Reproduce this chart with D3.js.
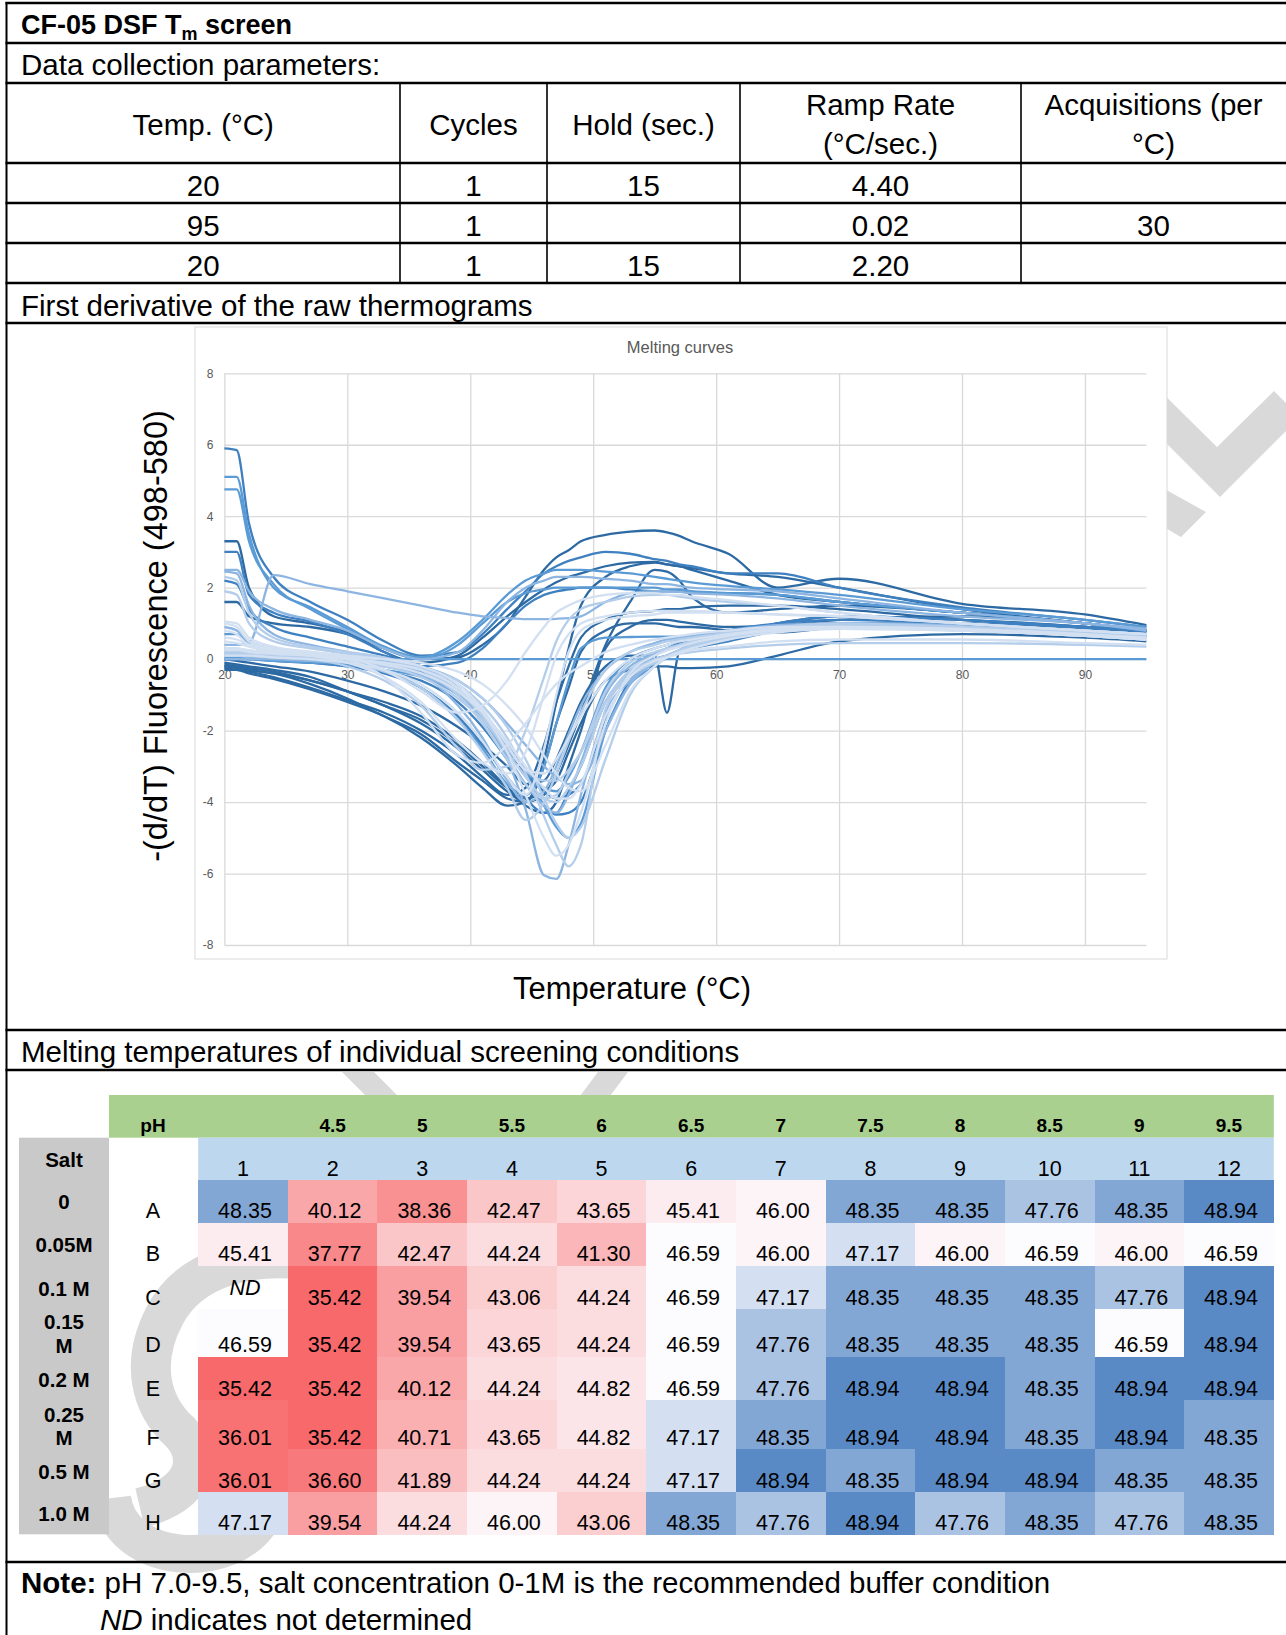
<!DOCTYPE html>
<html>
<head>
<meta charset="utf-8">
<script src="https://cdn.jsdelivr.net/npm/d3@7"></script>
<style>
  body { margin: 0; background: #fff; }
  svg { display: block; }
</style>
</head>
<body>
<div id="page"></div>
<script>
// ---------- data ----------
const paramHeader = [["Temp. (°C)"], ["Cycles"], ["Hold (sec.)"], ["Ramp Rate", "(°C/sec.)"], ["Acquisitions (per", "°C)"]];
const paramRows = [
  ["20", "1", "15", "4.40", ""],
  ["95", "1", "", "0.02", "30"],
  ["20", "1", "15", "2.20", ""]
];

// melting curves: -(d/dT) fluorescence sampled at these temperatures
const temps = [20, 21, 22, 24, 27, 30, 33, 36, 39, 41, 43, 44.5, 46, 47, 48, 49, 51, 53, 55, 56, 57, 58, 61, 65, 70, 80, 90, 95];
const xTicks = [20, 30, 40, 50, 60, 70, 80, 90];
const yTicks = [-8, -6, -4, -2, 0, 2, 4, 6, 8];

const bumpCurves = [
  [1.6,1.6,1.2,1.0,0.9,0.7,0.3,0.0,0.05,0.4, 1.0,1.75,2.5,2.85,3.05,3.3, 3.48,3.57,3.6,3.55,3.45,3.3,2.95,2.0,2.25,1.55,1.25,0.95],
  [5.9,5.85,3.8,2.3,1.6,1.1,0.5,0.1,0.2,0.7, 1.4,1.9,2.4,2.6,2.75,2.85, 3.0,2.95,2.8,2.75,2.65,2.6,2.4,2.4,2.0,1.45,1.1,0.9],
  [5.1,5.1,3.5,2.0,1.45,0.9,0.35,0.05,0.5,1.1, 1.8,2.2,2.4,2.5,2.5,2.5, 2.45,2.4,2.3,2.25,2.2,2.15,2.05,1.95,1.8,1.4,1.1,0.9],
  [4.75,4.75,3.3,2.1,1.4,0.85,0.3,0.0,0.4,1.0, 1.6,1.85,1.95,2.0,2.0,2.0, 2.0,2.0,2.0,1.95,1.95,1.9,1.85,1.8,1.6,1.3,1.0,0.8],
  [3.3,3.3,2.0,1.2,1.0,0.75,0.2,-0.1,0.1,0.6, 1.2,1.6,1.95,2.15,2.3,2.4, 2.6,2.7,2.72,2.65,2.6,2.55,2.4,2.3,2.0,1.4,1.0,0.8],
  [3.0,3.0,1.8,1.3,1.05,0.7,0.2,-0.2,-0.1,0.3, 1.0,1.5,1.8,1.9,1.95,2.0, 2.0,1.95,1.9,1.9,1.9,1.85,1.85,1.8,1.6,1.3,1.0,0.8],
  [2.5,2.5,1.9,1.4,1.1,0.8,0.3,0.0,0.2,0.8, 1.6,2.0,2.2,2.3,2.3,2.3, 2.25,2.2,2.1,2.1,2.05,2.0,1.95,1.9,1.7,1.3,1.0,0.8],
  [0.4,0.4,0.45,2.35,2.1,1.9,1.7,1.5,1.3,1.2, 1.15,1.12,1.12,1.13,1.15,1.2, 1.6,1.85,1.9,1.9,1.88,1.85,1.8,1.7,1.5,1.2,1.0,0.85]
];
const bumpShades = [0, 1, 2, 2, 0, 1, 3, 3];

const zeroCurve = [0,0,0,0,0,0,0,0,0,0, 0,0,0,0,0,0, 0,0,0,0,0,0,0,0,0,0,0,0];

const darkCurves = [
  [-0.2,-0.2,-0.3,-0.4,-0.7,-1.1,-1.6,-2.1,-2.9,-3.4, -3.9,-4.0,-2.8,-1.2,0.3,1.5, 2.3,2.6,2.7,2.65,2.6,2.5,2.2,1.8,1.6,1.3,1.0,0.8],
  [-0.1,-0.15,-0.2,-0.3,-0.5,-0.9,-1.3,-1.8,-2.5,-3.1, -3.7,-4.0,-3.8,-3.2,-2.4,-1.5, 0.4,1.6,2.5,2.45,2.2,1.75,1.3,1.4,1.5,1.3,1.0,0.8],
  [0.0,-0.05,-0.1,-0.2,-0.35,-0.6,-0.9,-1.3,-1.9,-2.4, -3.0,-3.5,-3.4,-2.8,-2.0,-1.2, -0.2,0.1,0.1,-1.5,0.2,0.4,0.7,1.0,1.2,1.1,0.9,0.7],
  [-0.25,-0.3,-0.35,-0.5,-0.8,-1.15,-1.5,-2.0,-2.7,-3.3, -3.8,-3.6,-2.4,-1.2,-0.2,0.6, 1.1,1.3,1.35,1.4,1.4,1.45,1.5,1.5,1.4,1.1,0.9,0.8],
  [-0.15,-0.2,-0.25,-0.35,-0.6,-0.9,-1.2,-1.6,-2.3,-2.9, -3.6,-4.1,-4.3,-4.0,-3.0,-2.0, 0.3,0.9,1.1,1.1,1.05,1.0,0.9,0.95,1.1,1.2,1.0,0.8],
  [-0.3,-0.3,-0.4,-0.55,-0.85,-1.2,-1.6,-2.2,-3.0,-3.6, -4.1,-4.0,-3.0,-1.8,-0.8,0.2, 0.8,1.0,1.0,0.95,0.9,0.9,0.8,0.75,0.9,1.0,0.8,0.7],
  [-0.2,-0.25,-0.3,-0.4,-0.6,-0.9,-1.3,-1.7,-2.4,-3.0, -3.6,-3.9,-3.7,-3.4,-2.6,-1.8, -0.6,-0.3,-0.2,-0.2,-0.25,-0.25,-0.2,0.1,0.5,0.7,0.6,0.5]
];

const midCurves = [
  [0.1,0.1,0.05,0.0,-0.1,-0.2,-0.4,-0.8,-1.6,-2.4, -3.3,-3.9,-4.3,-4.3,-3.7,-3.0, -1.2,-0.4,0.0,0.1,0.2,0.3,0.5,0.8,1.0,1.0,0.9,0.8],
  [0.0,0.0,0.0,-0.05,-0.1,-0.2,-0.35,-0.6,-1.2,-1.9, -2.8,-3.5,-4.1,-4.35,-4.3,-4.0, -2.0,-0.6,-0.1,0.1,0.25,0.4,0.7,1.0,1.2,1.1,0.9,0.8],
  [0.1,0.1,0.1,0.05,0.0,-0.05,-0.15,-0.3,-0.7,-1.3, -2.2,-3.2,-4.4,-5.2,-5.8,-5.2, -1.4,-0.5,-0.1,0.05,0.2,0.35,0.6,0.9,1.0,0.9,0.7,0.6],
  [0.0,0.0,0.0,0.0,-0.05,-0.1,-0.2,-0.4,-0.9,-1.6, -2.8,-4.2,-6.05,-6.15,-5.2,-3.8, -1.5,-0.6,-0.1,0.1,0.2,0.35,0.6,0.9,1.0,0.9,0.75,0.6],
  [0.05,0.05,0.0,-0.05,-0.1,-0.15,-0.3,-0.5,-1.0,-1.6, -2.4,-3.2,-4.1,-4.7,-5.0,-4.6, -2.0,-0.7,-0.2,0.05,0.2,0.35,0.6,0.85,1.0,0.95,0.8,0.7],
  [2.2,2.1,1.4,0.9,0.6,0.35,0.1,-0.2,-0.8,-1.5, -2.5,-3.2,-3.7,-3.9,-3.8,-3.5, -1.7,-0.4,0.1,0.3,0.45,0.55,0.8,1.0,1.1,1.0,0.85,0.75],
  [0.7,0.7,0.4,0.2,0.1,0.0,-0.1,-0.35,-0.9,-1.5, -2.4,-3.1,-3.6,-3.7,-3.3,-2.6, -0.8,0.0,0.3,0.4,0.5,0.6,0.8,0.95,1.0,0.9,0.75,0.65]
];
const midShades = [1, 1, 4, 3, 2, 1, 2];

const lightCurves = [
  [0.2,0.2,0.15,0.1,0.0,-0.2,-0.6,-1.3,-2.5,-3.1, -3.0,-2.0,-0.5,0.5,1.1,1.4, 1.6,1.75,1.8,1.8,1.75,1.7,1.6,1.5,1.3,1.0,0.8,0.7],
  [0.3,0.3,0.2,0.15,0.05,-0.1,-0.35,-0.8,-1.7,-2.6, -3.6,-4.5,-4.0,-3.2,-2.3,-1.5, -0.3,0.2,0.4,0.5,0.55,0.6,0.75,0.9,0.95,0.85,0.7,0.6],
  [0.5,0.45,0.35,0.2,0.1,0.0,-0.1,-0.3,-0.8,-1.5, -2.6,-3.8,-5.0,-5.5,-5.2,-4.3, -1.8,-0.4,0.1,0.25,0.35,0.45,0.65,0.8,0.85,0.8,0.65,0.55],
  [0.2,0.2,0.15,0.1,0.05,0.0,-0.1,-0.25,-0.6,-1.1, -1.9,-2.8,-3.9,-4.6,-5.0,-4.7, -2.8,-1.0,-0.2,0.1,0.25,0.4,0.6,0.8,0.9,0.85,0.7,0.6],
  [0.9,0.8,0.5,0.3,0.15,0.05,-0.05,-0.2,-0.6,-1.1, -1.8,-2.4,-3.0,-3.3,-3.5,-3.4, -2.0,-0.7,-0.1,0.1,0.25,0.4,0.6,0.8,0.9,0.8,0.65,0.55],
  [1.05,1.0,0.6,0.35,0.2,0.1,0.0,-0.2,-0.7,-1.4, -2.4,-3.1,-3.2,-2.8,-2.2,-1.6, -0.6,0.0,0.3,0.4,0.5,0.55,0.7,0.85,0.9,0.85,0.7,0.6],
  [1.9,1.8,1.0,0.5,0.3,0.15,0.0,-0.3,-1.0,-1.8, -2.8,-3.5,-3.9,-3.8,-3.2,-2.6, -0.9,-0.1,0.2,0.3,0.4,0.5,0.7,0.85,0.9,0.85,0.7,0.6],
  [0.3,0.3,0.25,0.2,0.1,-0.1,-0.5,-1.2,-2.3,-2.9, -3.2,-2.6,-1.0,0.1,0.7,1.0, 1.2,1.3,1.35,1.35,1.35,1.35,1.3,1.25,1.2,1.0,0.8,0.7],
  [2.45,2.4,1.5,0.7,0.4,0.2,0.0,-0.4,-1.3,-2.2, -3.4,-4.0,-3.7,-3.0,-2.1,-1.3, -0.3,0.2,0.45,0.55,0.6,0.65,0.8,0.95,1.0,0.9,0.75,0.65],
  [0.1,0.1,0.1,0.05,0.0,-0.1,-0.3,-0.7,-1.5,-2.3, -3.3,-3.8,-2.5,-1.0,0.2,0.8, 1.1,1.2,1.25,1.3,1.3,1.3,1.3,1.25,1.2,1.0,0.8,0.7],
  [0.0,0.0,0.0,0.0,-0.05,-0.15,-0.35,-0.8,-1.7,-2.5, -3.5,-3.8,-3.0,-1.8,-0.6,0.3, 0.6,0.62,0.63,0.63,0.63,0.63,0.7,0.85,0.95,0.9,0.75,0.65],
  [0.6,0.55,0.4,0.25,0.15,0.05,0.0,-0.1,-0.35,-0.7, -1.3,-1.9,-2.7,-3.2,-3.6,-3.7, -2.4,-0.9,-0.2,0.05,0.2,0.3,0.55,0.75,0.85,0.8,0.65,0.55],
  [0.1,0.1,0.05,0.0,-0.05,-0.1,-0.2,-0.45,-1.0,-1.7, -2.7,-3.5,-4.1,-4.3,-3.8,-2.9, -1.0,-0.2,0.15,0.3,0.4,0.5,0.7,0.9,1.0,0.95,0.8,0.7],
  [2.3,2.2,1.3,0.6,0.35,0.2,0.05,-0.25,-0.9,-1.6, -2.6,-3.3,-3.9,-4.0,-3.6,-3.0, -1.2,-0.3,0.1,0.25,0.35,0.45,0.65,0.85,0.95,0.9,0.75,0.65],
  [0.8,0.7,0.4,0.3,0.2,0.0,-0.5,-1.5,-2.7,-2.9, -2.4,-1.8,-1.1,-0.7,-0.4,-0.2, 0.2,0.4,0.55,0.6,0.65,0.7,0.8,0.9,0.9,0.8,0.65,0.55],
  [1.0,0.9,0.5,0.3,0.2,0.05,-0.3,-0.9,-1.5,-1.3, -0.6,0.2,0.9,1.3,1.5,1.65, 1.8,1.85,1.85,1.8,1.8,1.75,1.65,1.5,1.3,1.0,0.8,0.7],
  [0.15,0.15,0.1,0.05,0.0,-0.05,-0.2,-0.5,-1.1,-1.7, -2.5,-3.1,-3.4,-3.4,-3.1,-2.6, -1.2,-0.4,0.0,0.1,0.15,0.2,0.3,0.4,0.45,0.45,0.4,0.35],
  [0.25,0.25,0.2,0.15,0.1,0.0,-0.15,-0.4,-0.9,-1.5, -2.3,-3.0,-3.6,-3.9,-3.9,-3.5, -1.6,-0.5,-0.05,0.05,0.15,0.25,0.35,0.5,0.55,0.55,0.45,0.4]
];
const lightShades = [4, 4, 5, 4, 3, 5, 4, 5, 3, 5, 2, 5, 3, 4, 5, 5, 4, 5];

// melting temperatures (°C), rows A-H, columns 1-12; null = not determined
const phLabels = ["", "4.5", "5", "5.5", "6", "6.5", "7", "7.5", "8", "8.5", "9", "9.5"];
const colLabels = ["1", "2", "3", "4", "5", "6", "7", "8", "9", "10", "11", "12"];
const rowLetters = ["A", "B", "C", "D", "E", "F", "G", "H"];
const saltLabels = [["0"], ["0.05M"], ["0.1 M"], ["0.15", "M"], ["0.2 M"], ["0.25", "M"], ["0.5 M"], ["1.0 M"]];
const tmValues = [
  [48.35, 40.12, 38.36, 42.47, 43.65, 45.41, 46.00, 48.35, 48.35, 47.76, 48.35, 48.94],
  [45.41, 37.77, 42.47, 44.24, 41.30, 46.59, 46.00, 47.17, 46.00, 46.59, 46.00, 46.59],
  [null,  35.42, 39.54, 43.06, 44.24, 46.59, 47.17, 48.35, 48.35, 48.35, 47.76, 48.94],
  [46.59, 35.42, 39.54, 43.65, 44.24, 46.59, 47.76, 48.35, 48.35, 48.35, 46.59, 48.94],
  [35.42, 35.42, 40.12, 44.24, 44.82, 46.59, 47.76, 48.94, 48.94, 48.35, 48.94, 48.94],
  [36.01, 35.42, 40.71, 43.65, 44.82, 47.17, 48.35, 48.94, 48.94, 48.35, 48.94, 48.35],
  [36.01, 36.60, 41.89, 44.24, 44.24, 47.17, 48.94, 48.35, 48.94, 48.94, 48.35, 48.35],
  [47.17, 39.54, 44.24, 46.00, 43.06, 48.35, 47.76, 48.94, 47.76, 48.35, 47.76, 48.35]
];

// ---------- page ----------
const W = 1286, H = 1635;
const sans = "'Liberation Sans', Arial, Helvetica, sans-serif";
const shadeColors = ["#2d6aa3", "#3f80c0", "#5b9bd5", "#8db5e1", "#b3cdea", "#d2e0f2"];

const svg = d3.select("#page").append("svg")
  .attr("width", W).attr("height", H)
  .style("font-family", sans);

// watermark (behind everything)
const wm = svg.append("g").attr("fill", "#d9d9d9");
wm.append("polygon").attr("points", "1140,371 1217,447 1274,391 1300,417 1220,497 1140,417");
wm.append("polygon").attr("points", "1150,481 1206,512 1181,537 1150,519");
wm.append("polygon").attr("points", "342,1072 374,1072 398,1096 366,1096");
wm.append("polygon").attr("points", "598,1072 628,1072 610,1096 580,1096");
wm.append("path")
  .attr("d", "M320,1262 C250,1250 190,1268 165,1315 C140,1362 150,1405 180,1432 C205,1458 195,1495 140,1508")
  .attr("fill", "none").attr("stroke", "#d9d9d9").attr("stroke-width", 40);
wm.append("path")
  .attr("d", "M112,1498 C120,1565 232,1572 262,1518")
  .attr("fill", "none").attr("stroke", "#d9d9d9").attr("stroke-width", 38);

// ---------- parameter table ----------
const colEdges = [6.5, 400, 547, 740, 1021, 1286];
const head = svg.append("g").attr("font-size", "29.5px").attr("fill", "#000");

const title = head.append("text").attr("x", 21).attr("y", 34)
  .attr("font-weight", "bold").attr("font-size", "27px");
title.append("tspan").text("CF-05 DSF T");
title.append("tspan").attr("font-size", "18px").attr("dy", 6).text("m");
title.append("tspan").attr("dy", -6).text(" screen");

head.append("text").attr("x", 21).attr("y", 75).text("Data collection parameters:");

paramHeader.forEach((lines, i) => {
  const cx = (colEdges[i] + colEdges[i + 1]) / 2;
  const ys = lines.length === 1 ? [135] : [115, 154];
  lines.forEach((s, j) => {
    head.append("text").attr("x", cx).attr("y", ys[j]).attr("text-anchor", "middle").text(s);
  });
});
paramRows.forEach((row, r) => {
  row.forEach((s, i) => {
    if (!s) return;
    head.append("text")
      .attr("x", (colEdges[i] + colEdges[i + 1]) / 2)
      .attr("y", 196 + r * 40)
      .attr("text-anchor", "middle").text(s);
  });
});
head.append("text").attr("x", 21).attr("y", 316).text("First derivative of the raw thermograms");
head.append("text").attr("x", 21).attr("y", 1062).text("Melting temperatures of individual screening conditions");

// ---------- melting curves chart ----------
const chart = svg.append("g");
chart.append("rect")
  .attr("x", 195).attr("y", 327).attr("width", 972).attr("height", 632)
  .attr("fill", "#fff").attr("stroke", "#d9d9d9").attr("stroke-width", 1);

const x = d3.scaleLinear().domain([20, 95]).range([224.4, 1146.4]);
const y = d3.scaleLinear().domain([-8, 8]).range([945, 373.3]);

chart.append("g")
  .attr("transform", `translate(0,${y(-8)})`)
  .call(d3.axisBottom(x).tickValues(xTicks).tickSize(-(y(-8) - y(8))).tickFormat(""))
  .call(g => g.select(".domain").remove())
  .call(g => g.selectAll("line").attr("stroke", "#d9d9d9").attr("stroke-width", 1.3));
chart.append("g")
  .attr("transform", `translate(${x(20)},0)`)
  .call(d3.axisLeft(y).tickValues(yTicks).tickSize(-(x(95) - x(20))).tickFormat(""))
  .call(g => g.select(".domain").remove())
  .call(g => g.selectAll("line").attr("stroke", "#d9d9d9").attr("stroke-width", 1.3));

// tick labels (horizontal axis crosses at 0)
chart.append("g")
  .attr("transform", `translate(0,${y(0)})`)
  .call(d3.axisBottom(x).tickValues(xTicks).tickSize(0).tickPadding(11).tickFormat(d => String(d)))
  .call(g => g.select(".domain").remove())
  .call(g => g.selectAll("text").attr("fill", "#595959").attr("font-size", "12px").attr("font-family", sans));
chart.append("g")
  .attr("transform", `translate(${x(20)},0)`)
  .call(d3.axisLeft(y).tickValues(yTicks).tickSize(0).tickPadding(11).tickFormat(d => String(d)))
  .call(g => g.select(".domain").remove())
  .call(g => g.selectAll("text").attr("fill", "#595959").attr("font-size", "12px").attr("font-family", sans));

chart.append("text").attr("x", 680).attr("y", 353).attr("text-anchor", "middle")
  .attr("fill", "#595959").attr("font-size", "16.5px").text("Melting curves");

const series = [];
bumpCurves.forEach((v, i) => series.push({ v, s: bumpShades[i] }));
darkCurves.forEach(v => series.push({ v, s: 0 }));
midCurves.forEach((v, i) => series.push({ v, s: midShades[i] }));
series.push({ v: zeroCurve, s: 2 });
lightCurves.forEach((v, i) => series.push({ v, s: lightShades[i] }));
series.sort((a, b) => a.s - b.s);

const line = d3.line()
  .x((d, i) => x(temps[i]))
  .y(d => y(d))
  .curve(d3.curveMonotoneX);

chart.append("g")
  .selectAll("path")
  .data(series)
  .join("path")
  .attr("d", d => line(d.v))
  .attr("fill", "none")
  .attr("stroke", d => shadeColors[d.s])
  .attr("stroke-width", 2.3)
  .attr("stroke-linejoin", "round");

// axis titles
svg.append("text")
  .attr("transform", "translate(167,636) rotate(-90)")
  .attr("text-anchor", "middle").attr("font-size", "32.5px").attr("fill", "#000")
  .text("-(d/dT) Fluorescence (498-580)");
svg.append("text")
  .attr("x", 632).attr("y", 999).attr("text-anchor", "middle")
  .attr("font-size", "31px").attr("fill", "#000")
  .text("Temperature (°C)");

// ---------- heatmap ----------
const hm = svg.append("g");
const colX = d3.scaleBand().domain(colLabels).range([198.2, 1273.8]);
const rowTop = d3.scaleOrdinal().domain(rowLetters).range([1180, 1222.7, 1265.7, 1309, 1356.7, 1400, 1449, 1492]);
const rowBottom = d3.scaleOrdinal().domain(rowLetters).range([1222.7, 1265.7, 1309, 1356.7, 1400, 1449, 1492, 1534.3]);
const color = d3.scaleLinear().domain([35.42, 46.59, 48.94]).range(["#F8696B", "#FCFCFF", "#5A8AC6"]);

hm.append("rect").attr("x", 109).attr("y", 1095).attr("width", 1273.8 - 109).attr("height", 42.7)
  .attr("fill", "#a9d08e");
hm.append("rect").attr("x", 198.2).attr("y", 1137.7).attr("width", 1273.8 - 198.2).attr("height", 42.3)
  .attr("fill", "#bdd7ee");
hm.append("rect").attr("x", 19).attr("y", 1137.7).attr("width", 90).attr("height", 1534.3 - 1137.7)
  .attr("fill", "#c9c9c9");

const cells = [];
tmValues.forEach((row, r) => row.forEach((v, c) => cells.push({ r: rowLetters[r], c: colLabels[c], v })));

hm.append("g").attr("shape-rendering", "crispEdges")
  .selectAll("rect")
  .data(cells.filter(d => d.v !== null))
  .join("rect")
  .attr("x", d => colX(d.c))
  .attr("y", d => rowTop(d.r))
  .attr("width", colX.bandwidth() + 0.5)
  .attr("height", d => rowBottom(d.r) - rowTop(d.r) + 0.5)
  .attr("fill", d => color(d.v));

hm.append("g").attr("font-size", "21.5px").attr("text-anchor", "middle").attr("fill", "#000")
  .selectAll("text")
  .data(cells)
  .join("text")
  .attr("x", d => colX(d.c) + colX.bandwidth() / 2 + 2)
  .attr("y", d => d.v === null ? rowTop(d.r) + 29 : rowBottom(d.r) - 4.5)
  .attr("font-style", d => d.v === null ? "italic" : null)
  .text(d => d.v === null ? "ND" : d.v.toFixed(2));

// pH header and column numbers
hm.append("text").attr("x", 153).attr("y", 1132).attr("text-anchor", "middle")
  .attr("font-weight", "bold").attr("font-size", "19px").text("pH");
hm.append("g").attr("font-weight", "bold").attr("font-size", "19px").attr("text-anchor", "middle")
  .selectAll("text").data(colLabels).join("text")
  .attr("x", d => colX(d) + colX.bandwidth() / 2)
  .attr("y", 1132)
  .text((d, i) => phLabels[i]);
hm.append("g").attr("font-size", "21.5px").attr("text-anchor", "middle")
  .selectAll("text").data(colLabels).join("text")
  .attr("x", d => colX(d) + colX.bandwidth() / 2)
  .attr("y", 1176)
  .text(d => d);

// row letters and salt concentrations
hm.append("g").attr("font-size", "21.5px").attr("text-anchor", "middle")
  .selectAll("text").data(rowLetters).join("text")
  .attr("x", 153)
  .attr("y", d => rowBottom(d) - 4.5)
  .text(d => d);

hm.append("text").attr("x", 64).attr("y", 1167).attr("text-anchor", "middle")
  .attr("font-weight", "bold").attr("font-size", "20.5px").text("Salt");
const saltG = hm.append("g").attr("font-weight", "bold").attr("font-size", "20.5px").attr("text-anchor", "middle");
saltLabels.forEach((lines, i) => {
  const b = rowBottom(rowLetters[i]);
  const ys = lines.length === 1 ? [b - 13.5] : [b - 27.5, b - 4];
  lines.forEach((s, j) => saltG.append("text").attr("x", 64).attr("y", ys[j]).text(s));
});

// ---------- note ----------
const note = svg.append("g").attr("font-size", "29.5px");
const n1 = note.append("text").attr("x", 21).attr("y", 1593);
n1.append("tspan").attr("font-weight", "bold").text("Note:");
n1.append("tspan").text(" pH 7.0-9.5, salt concentration 0-1M is the recommended buffer condition");
const n2 = note.append("text").attr("x", 100).attr("y", 1630);
n2.append("tspan").attr("font-style", "italic").text("ND");
n2.append("tspan").text(" indicates not determined");

// ---------- table rules ----------
const rules = svg.append("g").attr("stroke", "#000");
[3, 43, 83, 163, 203, 243, 283, 323, 1030, 1070, 1562].forEach(yy => {
  rules.append("line").attr("x1", 5.5).attr("x2", W).attr("y1", yy).attr("y2", yy).attr("stroke-width", 2.5);
});
rules.append("line").attr("x1", 6.5).attr("x2", 6.5).attr("y1", 2).attr("y2", H).attr("stroke-width", 2);
colEdges.slice(1, 5).forEach(xx => {
  rules.append("line").attr("x1", xx).attr("x2", xx).attr("y1", 83).attr("y2", 283).attr("stroke-width", 1.6);
});
</script>
</body>
</html>
